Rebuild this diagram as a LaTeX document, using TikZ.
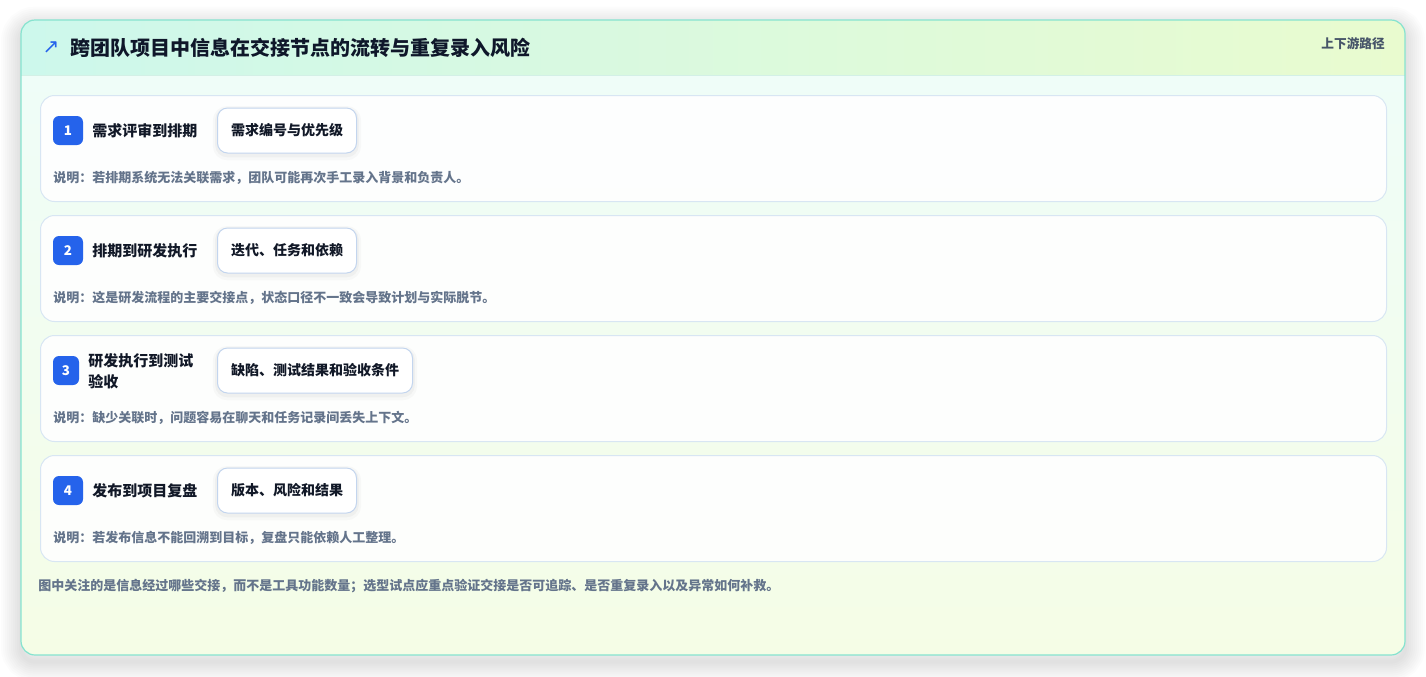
\documentclass[tikz,border=0pt]{standalone}
\usepackage{fontspec}
\setmainfont{Noto Sans CJK SC}
\newfontfamily\symfont{DejaVu Sans}
\definecolor{cardborder}{HTML}{86E3CF}
\definecolor{headL}{HTML}{CDF8EC}
\definecolor{headR}{HTML}{E9FBCF}
\definecolor{bodyT}{HTML}{EFFDF8}
\definecolor{bodyB}{HTML}{F5FDE6}
\definecolor{headline}{HTML}{D3F0E6}
\definecolor{rowborder}{HTML}{D8E6F3}
\definecolor{pillborder}{HTML}{C3D5EE}
\definecolor{badge}{HTML}{2563EB}
\definecolor{titlec}{HTML}{0F172A}
\definecolor{rowtitle}{HTML}{111827}
\definecolor{muted}{HTML}{64748B}
\definecolor{tagc}{HTML}{475569}
\def\px{0.75pt}
\begin{document}
\begin{tikzpicture}[x=0.75pt,y=-0.75pt,
  rowbox/.style={draw=rowborder, line width=0.75pt, fill=white, fill opacity=0.9, draw opacity=1,
    rounded corners=10.5pt, minimum width=1346*\px, minimum height=106*\px, anchor=north west, inner sep=0pt},
  badgebox/.style={fill=badge, rounded corners=4.5pt, minimum width=30*\px, minimum height=29*\px,
    inner sep=0pt, text=white, font=\fontsize{10}{12}\selectfont\bfseries},
  rtitle/.style={anchor=west, inner sep=0pt, text=rowtitle, font=\fontsize{11.25}{15.75}\selectfont\bfseries, align=left},
  pill/.style={draw=pillborder, line width=0.75pt, fill=white, rounded corners=7.5pt,
    minimum height=45*\px, inner xsep=13.5*\px, inner ysep=0pt, anchor=west, text=rowtitle,
    font=\fontsize{10.5}{12}\selectfont\bfseries,
    preaction={draw=black, draw opacity=0.025, line width=7pt, transform canvas={yshift=-2pt}},
    preaction={draw=black, draw opacity=0.03, line width=3.5pt, transform canvas={yshift=-1.5pt}}},
  desc/.style={anchor=west, inner sep=0pt, text=muted, font=\fontsize{9.75}{12}\selectfont\bfseries}
]
\useasboundingbox (0,0) rectangle (1426,676);
\fill[white] (0,0) rectangle (1426,676);
% card shadow
\begin{scope}[transform canvas={yshift=-5pt}]
  \foreach \w in {3,6,...,30}
    \draw[black, draw opacity=0.011, line width=\w pt, rounded corners=10.5pt] (21,20) rectangle (1405,655);
\end{scope}
% card body
\begin{scope}
  \clip[rounded corners=10.5pt] (21,20) rectangle (1405,655);
  \shade[top color=bodyT, bottom color=bodyB] (21,75) rectangle (1405,655);
  \shade[left color=headL, right color=headR] (21,20) rectangle (1405,75);
  \draw[headline, line width=0.75pt] (21,75) -- (1405,75);
\end{scope}
\draw[cardborder, line width=0.9pt, rounded corners=10.5pt] (21,20) rectangle (1405,655);
% header
\node[anchor=center, inner sep=0pt, text=badge, font=\symfont\fontsize{15}{15}\selectfont] (icon) at (51,48) {↗};
\node[anchor=west, inner sep=0pt, text=titlec, font=\fontsize{15}{18}\selectfont\bfseries] (title) at (70,48) {跨团队项目中信息在交接节点的流转与重复录入风险};
\node[anchor=east, inner sep=0pt, text=tagc, font=\fontsize{9.5}{12}\selectfont\bfseries] (tag) at (1385,44) {上下游路径};
% rows
\node[rowbox] (r1) at (40,95) {};
\node[rowbox] (r2) at (40,215) {};
\node[rowbox] (r3) at (40,335) {};
\node[rowbox] (r4) at (40,455) {};
% row 1
\node[badgebox] (b1) at (68,130.5) {1};
\node[rtitle] (t1) at (92,131) {需求评审到排期};
\node[pill] (p1) at (217,130.5) {需求编号与优先级};
\node[desc] (d1) at (53,178) {说明：若排期系统无法关联需求，团队可能再次手工录入背景和负责人。};
% row 2
\node[badgebox] (b2) at (68,250.5) {2};
\node[rtitle] (t2) at (92,251) {排期到研发执行};
\node[pill] (p2) at (217,250.5) {迭代、任务和依赖};
\node[desc] (d2) at (53,298) {说明：这是研发流程的主要交接点，状态口径不一致会导致计划与实际脱节。};
% row 3
\node[badgebox, minimum width=26*\px] (b3) at (66,370.5) {3};
\node[rtitle] (t3) at (88,371) {研发执行到测试\\验收};
\node[pill] (p3) at (217,370.5) {缺陷、测试结果和验收条件};
\node[desc] (d3) at (53,418) {说明：缺少关联时，问题容易在聊天和任务记录间丢失上下文。};
% row 4
\node[badgebox] (b4) at (68,490.5) {4};
\node[rtitle] (t4) at (92,491) {发布到项目复盘};
\node[pill] (p4) at (217,490.5) {版本、风险和结果};
\node[desc] (d4) at (53,538) {说明：若发布信息不能回溯到目标，复盘只能依赖人工整理。};
% footer
\node[desc] (foot) at (38,586) {图中关注的是信息经过哪些交接，而不是工具功能数量；选型试点应重点验证交接是否可追踪、是否重复录入以及异常如何补救。};
\end{tikzpicture}
\end{document}
